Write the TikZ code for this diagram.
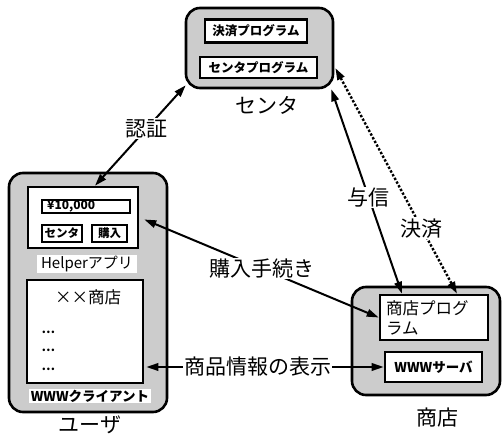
\documentclass[tikz,border=0pt]{standalone}
\usepackage{fontspec}
\setmainfont{Noto Sans CJK JP}
\usetikzlibrary{arrows.meta}
\definecolor{stipple}{gray}{0.80}
\tikzset{
  x=1pt, y=-1pt,
  outerbox/.style={draw, line width=2.6pt, rounded corners=14pt, fill=stipple, inner sep=0pt},
  thickbox/.style={draw, line width=2.6pt, fill=white, inner sep=0pt},
  thinbox/.style={draw, line width=1.6pt, fill=white, inner sep=0pt},
  biglabel/.style={font=\fontsize{21}{24}\selectfont, inner sep=1pt},
  boxtext/.style={font=\bfseries\fontsize{12.5}{14}\selectfont},
  tagtext/.style={font=\fontsize{15}{17}\selectfont, fill=white, inner sep=1pt},
  link/.style={line width=2pt, {Triangle[length=12pt,width=7.5pt]}-{Triangle[length=12pt,width=7.5pt]}},
  dotlink/.style={link, line width=2.4pt, dash pattern=on 2.4pt off 1.8pt},
  onlink/.style={biglabel, fill=white}
}
\begin{document}
\begin{tikzpicture}
\useasboundingbox (0,0) rectangle (504,443);

% --- center (payment center) ---
\node[outerbox, minimum width=147, minimum height=80] (center) at (259.5,48) {};
\node[thickbox, minimum width=102, minimum height=23, boxtext] (settle) at (256,31) {決済プログラム};
\node[thickbox, minimum width=117, minimum height=21, boxtext] (cprog) at (258.5,67.5) {センタプログラム};
\node[biglabel] (centerlbl) at (267,105) {センタ};

% --- user side ---
\node[outerbox, minimum width=158, minimum height=239] (user) at (88,292.5) {};
\node[thickbox, minimum width=110, minimum height=61] (helper) at (83,217.5) {};
\node[thinbox, minimum width=88, minimum height=13] (price) at (86,206.5) {};
\node[anchor=west, font=\bfseries\fontsize{12}{13}\selectfont, inner sep=0pt] (pricetxt) at (47,206.5) {¥10,000};
\node[thinbox, minimum width=40, minimum height=17, font=\bfseries\fontsize{11.5}{13}\selectfont] (btncenter) at (62,233.5) {センタ};
\node[thinbox, minimum width=35, minimum height=17, font=\bfseries\fontsize{11.5}{13}\selectfont] (btnbuy) at (109.5,233.5) {購入};
\node[tagtext, minimum width=100] (helperlbl) at (87,264) {Helperアプリ};

\node[thickbox, minimum width=116, minimum height=103] (browser) at (85,331.5) {};
\node[font=\fontsize{16.5}{18}\selectfont] (shopname) at (88,297) {××商店};
\node[anchor=west, font=\bfseries\fontsize{12}{12}\selectfont] (dots1) at (38,332) {…};
\node[anchor=west, font=\bfseries\fontsize{12}{12}\selectfont] (dots2) at (38,350) {…};
\node[anchor=west, font=\bfseries\fontsize{12}{12}\selectfont] (dots3) at (38,369) {…};
\node[tagtext, font=\bfseries\fontsize{13.5}{15}\selectfont, minimum width=122] (clientlbl) at (90,396) {WWWクライアント};
\node[biglabel] (userlbl) at (90,425) {ユーザ};

% --- shop side ---
\node[outerbox, minimum width=148, minimum height=108] (shop) at (426,341) {};
\node[thickbox, minimum width=108, minimum height=45, text width=96pt, align=left,
      font=\fontsize{16.5}{20}\selectfont] (shopprog) at (434,317.5) {商店プログ\\ラム};
\node[thickbox, minimum width=97, minimum height=30, font=\bfseries\fontsize{13.5}{15}\selectfont] (server) at (433.5,367) {WWWサーバ};
\node[biglabel] (shoplbl) at (437,418) {商店};

% --- connectors ---
\draw[link] ([xshift=12pt]helper.north) -- ([xshift=1pt,yshift=4pt]center.south west)
  node[onlink, pos=0.57] {認証};
\draw[link] ([xshift=5pt,yshift=-2pt]helper.east) -- (shopprog.west)
  node[onlink, pos=0.5] {購入手続き};
\draw[link] ([xshift=2pt]server.west -| browser.east) -- (server.west)
  node[onlink, pos=0.47] {商品情報の表示};
\draw[link] ([xshift=-3pt]center.south east) -- ([xshift=-32pt]shopprog.north)
  node[onlink, pos=0.53] {与信};
\draw[dotlink] ([xshift=1pt,yshift=-20pt]center.east) -- ([xshift=23pt]shopprog.north)
  node[onlink, pos=0.71] {決済};
\end{tikzpicture}
\end{document}
